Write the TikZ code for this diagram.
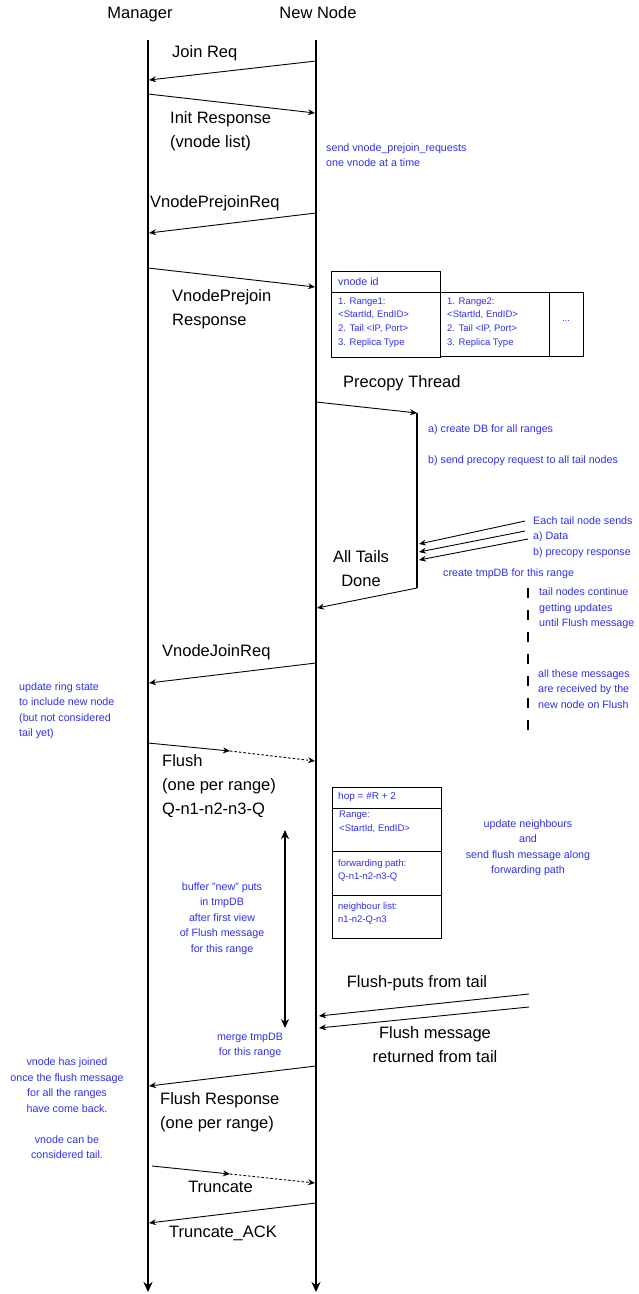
\documentclass[tikz,border=0pt]{standalone}
\usepackage{fontspec}
\setmainfont{Liberation Sans}
\usepackage{xcolor}
\usetikzlibrary{arrows.meta}
\definecolor{seq-blue}{HTML}{2F2FE8}
\definecolor{seq-dark}{HTML}{000000}

\begin{document}
\begin{tikzpicture}[x=1pt, y=-1pt,
    heading/.style={font=\fontsize{16.5}{20}\selectfont, inner sep=0pt},
    msglabel/.style={font=\fontsize{16.5}{24}\selectfont, inner sep=0pt, align=left, anchor=west},
    bluenote/.style={font=\fontsize{10.7}{15.5}\selectfont, text=seq-blue, inner sep=0pt, align=left, anchor=west},
    cellnote/.style={font=\fontsize{9.5}{13.7}\selectfont, text=seq-blue, inner sep=0pt, align=left, anchor=west},
    cellbox/.style={draw=seq-dark, line width=0.9pt},
    msg/.style={seq-dark, line width=0.9pt, -{Stealth[length=7pt, width=6pt]}},
    lifeline/.style={seq-dark, line width=2.4pt, -{Stealth[length=10pt, width=9pt]}},
]
    \useasboundingbox (0,0) rectangle (638,1294);
    \def\mx{148}
    \def\nx{316}

    % Lifelines
    \node[heading] (mgr) at (140,15) {Manager};
    \node[heading] (newnode) at (318,13) {New Node};
    \coordinate (mgr-top) at (\mx,40);
    \coordinate (mgr-bot) at (\mx,1292);
    \coordinate (nn-top) at (\nx,40);
    \coordinate (nn-bot) at (\nx,1292);
    \draw[lifeline] (mgr-top) -- (mgr-bot);
    \draw[lifeline] (nn-top) -- (nn-bot);

    % Join Req / Init Response
    \coordinate (join-a) at (\nx,61);
    \coordinate (join-b) at (\mx+1,80);
    \draw[msg] (join-a) -- (join-b);
    \node[msglabel] (join-lbl) at (172,53) {Join Req};

    \coordinate (init-a) at (\mx,94);
    \coordinate (init-b) at (\nx-1,113);
    \draw[msg] (init-a) -- (init-b);
    \node[msglabel] (init-lbl) at (170,131) {Init Response\\(vnode list)};
    \node[bluenote] (send-note) at (326,155)
        {send vnode\_prejoin\_requests\\one vnode at a time};

    % VnodePrejoinReq / Response
    \coordinate (pjreq-a) at (\nx,213);
    \coordinate (pjreq-b) at (\mx+1,233);
    \draw[msg] (pjreq-a) -- (pjreq-b);
    \node[msglabel] (pjreq-lbl) at (150,203) {VnodePrejoinReq};

    \coordinate (pjresp-a) at (\mx,268);
    \coordinate (pjresp-b) at (\nx-1,287);
    \draw[msg] (pjresp-a) -- (pjresp-b);
    \node[msglabel] (pjresp-lbl) at (172,309) {VnodePrejoin\\Response};

    % Prejoin response layout
    \draw[cellbox] (331,271) rectangle (440,292);
    \draw[cellbox] (331,292) rectangle (440,357);
    \draw[cellbox] (440,292) rectangle (549,356);
    \draw[cellbox] (549,292) rectangle (583,356);
    \node[bluenote] (vid) at (338,282) {vnode id};
    \node[cellnote] (range1) at (338,322.5)
        {1. Range1:\\<StartId, EndID>\\2. Tail <IP, Port>\\3. Replica Type};
    \node[cellnote] (range2) at (447,322.5)
        {1. Range2:\\<StartId, EndID>\\2. Tail <IP, Port>\\3. Replica Type};
    \node[cellnote, anchor=center] (more) at (566,321) {...};

    % Precopy thread
    \node[msglabel] (pc-lbl) at (343,383) {Precopy Thread};
    \coordinate (pc-a) at (\nx,402);
    \coordinate (pc-b) at (417,413);
    \coordinate (pc-c) at (417,588);
    \coordinate (pc-d) at (\nx+1,608);
    \draw[msg] (pc-a) -- (pc-b);
    \draw[seq-dark, line width=1.8pt] (pc-b) -- (pc-c);
    \draw[msg] (pc-c) -- (pc-d);
    \node[bluenote] (pc-a-note) at (428,429.5) {a) create DB for all ranges};
    \node[bluenote] (pc-b-note) at (428,460.5) {b) send precopy request to all tail nodes};

    % Tail replies
    \coordinate (tail1-a) at (525,521);
    \coordinate (tail1-b) at (419,544);
    \coordinate (tail2-a) at (525,531);
    \coordinate (tail2-b) at (419,552);
    \coordinate (tail3-a) at (528,539);
    \coordinate (tail3-b) at (419,560);
    \draw[msg] (tail1-a) -- (tail1-b);
    \draw[msg] (tail2-a) -- (tail2-b);
    \draw[msg] (tail3-a) -- (tail3-b);
    \node[bluenote] (tail-note) at (533,537)
        {Each tail node sends\\a) Data\\b) precopy response};
    \node[msglabel, align=center, anchor=center] (done-lbl) at (361,569) {All Tails\\Done};
    \node[bluenote] (tmpdb-note) at (443,574) {create tmpDB for this range};

    % Tail updates until flush
    \coordinate (upd-top) at (528,588);
    \coordinate (upd-bot) at (528,730);
    \draw[seq-dark, line width=2.4pt, dash pattern=on 10pt off 12pt] (upd-top) -- (upd-bot);
    \node[bluenote] (upd-note) at (539,608.5)
        {tail nodes continue\\getting updates\\until Flush message};
    \node[bluenote] (recv-note) at (538,689)
        {all these messages\\are received by the\\new node on Flush};

    % VnodeJoinReq
    \coordinate (vjreq-a) at (\nx,663);
    \coordinate (vjreq-b) at (\mx+1,683);
    \draw[msg] (vjreq-a) -- (vjreq-b);
    \node[msglabel] (vjreq-lbl) at (162,652) {VnodeJoinReq};
    \node[bluenote] (ring-note) at (19,710.5)
        {update ring state\\to include new node\\(but not considered\\tail yet)};

    % Flush
    \coordinate (flush-a) at (\mx,743);
    \coordinate (flush-m) at (230,751);
    \coordinate (flush-b) at (\nx-1,761);
    \draw[msg] (flush-a) -- (flush-m);
    \draw[msg, dash pattern=on 2.5pt off 2pt] (flush-m) -- (flush-b);
    \node[msglabel] (flush-lbl) at (162,786)
        {Flush\\(one per range)\\Q-n1-n2-n3-Q};

    % Flush message layout
    \draw[cellbox] (332,787) rectangle (441,808);
    \draw[cellbox] (332,808) rectangle (441,851);
    \draw[cellbox] (332,851) rectangle (441,895);
    \draw[cellbox] (332,895) rectangle (441,938);
    \node[cellnote, font=\fontsize{10}{13.7}\selectfont] (hop) at (338,797) {hop = \#R + 2};
    \node[cellnote] (hop-range) at (339,822) {Range:\\<StartId, EndID>};
    \node[cellnote] (hop-path) at (338,870.5) {forwarding path:\\Q-n1-n2-n3-Q};
    \node[cellnote] (hop-nbr) at (338,913.5) {neighbour list:\\n1-n2-Q-n3};
    \node[bluenote, align=center, anchor=center] (nbr-note) at (528,847.5)
        {update neighbours\\and\\send flush message along\\forwarding path};

    % Buffering window
    \coordinate (buf-top) at (285,830);
    \coordinate (buf-bot) at (285,1028);
    \draw[seq-dark, line width=2pt, {Stealth[length=9pt, width=8pt]}-{Stealth[length=9pt, width=8pt]}]
        (buf-top) -- (buf-bot);
    \node[bluenote, align=center, anchor=center] (buf-note) at (222,918.5)
        {buffer "new" puts\\in tmpDB\\after first view\\of Flush message\\for this range};
    \node[bluenote, align=center, anchor=center] (merge-note) at (250,1045.5)
        {merge tmpDB\\for this range};

    % Flush puts from tail
    \coordinate (fput-a) at (529,994);
    \coordinate (fput-b) at (319,1016);
    \coordinate (fret-a) at (529,1007);
    \coordinate (fret-b) at (319,1028);
    \draw[msg] (fput-a) -- (fput-b);
    \draw[msg] (fret-a) -- (fret-b);
    \node[msglabel, anchor=center] (fput-lbl) at (417,983) {Flush-puts from tail};
    \node[msglabel, align=center, anchor=center] (fret-lbl) at (435,1044.5)
        {Flush message\\returned from tail};

    % Flush Response
    \coordinate (fresp-a) at (\nx,1066);
    \coordinate (fresp-b) at (\mx+1,1086);
    \draw[msg] (fresp-a) -- (fresp-b);
    \node[msglabel] (fresp-lbl) at (160,1112) {Flush Response\\(one per range)};
    \node[bluenote, align=center, anchor=center] (joined-note) at (67,1108.5)
        {vnode has joined\\once the flush message\\for all the ranges\\have come back.\\[15.5pt]vnode can be\\considered tail.};

    % Truncate
    \coordinate (trunc-a) at (\mx+4,1166);
    \coordinate (trunc-m) at (230,1174);
    \coordinate (trunc-b) at (\nx-1,1183);
    \draw[msg] (trunc-a) -- (trunc-m);
    \draw[msg, dash pattern=on 2.5pt off 2pt] (trunc-m) -- (trunc-b);
    \node[msglabel, anchor=center] (trunc-lbl) at (220.5,1187) {Truncate};

    \coordinate (tack-a) at (\nx,1203);
    \coordinate (tack-b) at (\mx+1,1223);
    \draw[msg] (tack-a) -- (tack-b);
    \node[msglabel, anchor=center] (tack-lbl) at (223,1233) {Truncate\_ACK};
\end{tikzpicture}
\end{document}
